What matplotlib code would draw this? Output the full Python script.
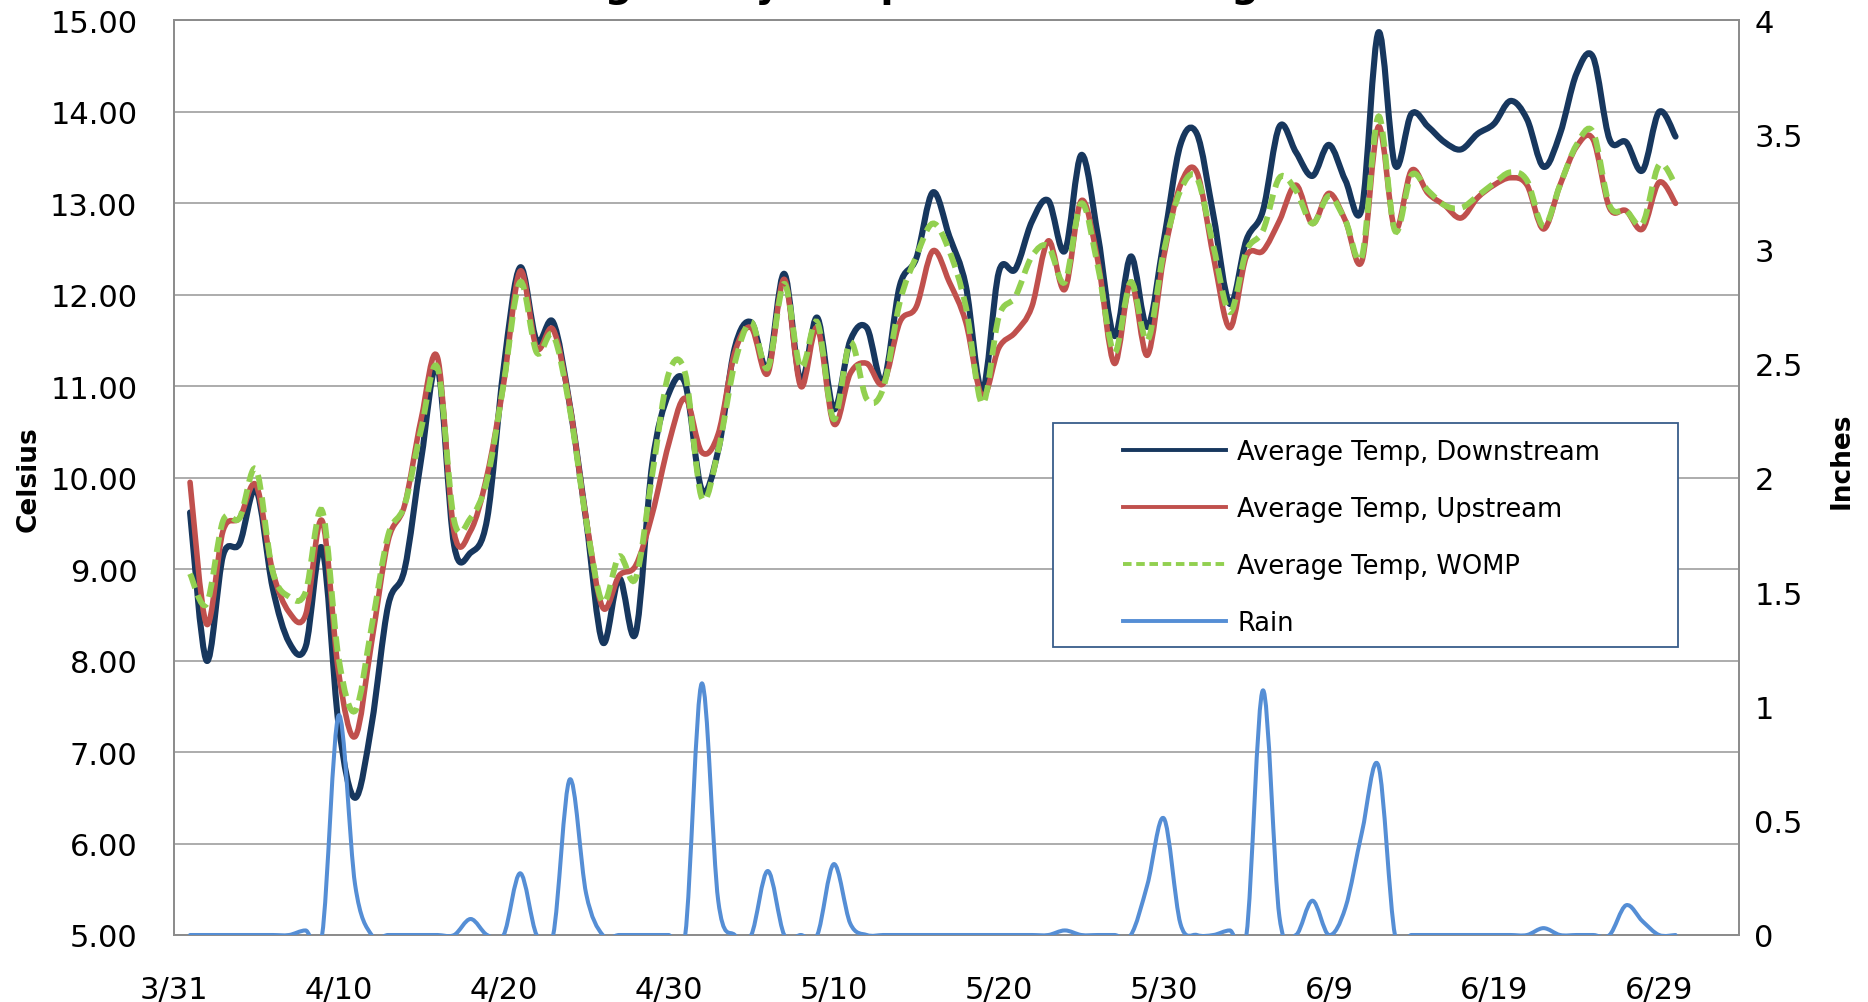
import numpy as np
import pandas as pd
import matplotlib
matplotlib.use("Agg")
import matplotlib.pyplot as plt
import matplotlib.dates as mdates
from matplotlib.path import Path
from matplotlib.patches import PathPatch, Rectangle
from matplotlib.lines import Line2D
from matplotlib.ticker import FuncFormatter

# daily readings 4/1 .. 6/30
dates = pd.date_range("2011-04-01", "2011-06-30", freq="D")

downstream = [
    9.62, 8.00, 9.15, 9.28, 9.87, 8.80, 8.20, 8.15, 9.23, 7.30,
    6.50, 7.30, 8.60, 9.00, 10.20, 11.20, 9.26, 9.18, 9.55, 11.20,
    12.30, 11.50, 11.70, 10.80, 9.53, 8.20, 8.90, 8.30, 10.15, 10.92,
    11.03, 9.87, 10.30, 11.42, 11.70, 11.20, 12.23, 11.05, 11.75, 10.75,
    11.50, 11.64, 11.05, 12.10, 12.40, 13.12, 12.64, 12.10, 10.95, 12.25,
    12.28, 12.80, 13.03, 12.48, 13.53, 12.65, 11.55, 12.42, 11.65, 12.60,
    13.64, 13.76, 12.87, 11.90, 12.60, 12.92, 13.84, 13.56, 13.30, 13.64,
    13.25, 12.95, 14.87, 13.42, 13.98, 13.84, 13.67, 13.59, 13.76, 13.87,
    14.12, 13.92, 13.40, 13.76, 14.42, 14.60, 13.70, 13.67, 13.36, 14.00,
    13.73,
]
upstream = [
    9.95, 8.40, 9.42, 9.56, 9.92, 8.98, 8.53, 8.50, 9.53, 7.87,
    7.17, 8.20, 9.31, 9.70, 10.64, 11.31, 9.40, 9.42, 10.03, 11.03,
    12.26, 11.42, 11.62, 10.80, 9.55, 8.58, 8.93, 9.04, 9.60, 10.37,
    10.87, 10.28, 10.48, 11.37, 11.64, 11.14, 12.17, 11.00, 11.64, 10.59,
    11.14, 11.25, 11.03, 11.70, 11.87, 12.48, 12.14, 11.70, 10.89, 11.42,
    11.59, 11.87, 12.59, 12.06, 13.03, 12.37, 11.25, 12.14, 11.34, 12.42,
    13.20, 13.34, 12.42, 11.64, 12.42, 12.48, 12.81, 13.20, 12.78, 13.11,
    12.81, 12.37, 13.84, 12.72, 13.36, 13.11, 12.98, 12.84, 13.06, 13.20,
    13.28, 13.20, 12.72, 13.20, 13.62, 13.70, 12.95, 12.92, 12.72, 13.23,
    13.00,
]
womp = [
    8.95, 8.62, 9.53, 9.56, 10.09, 8.98, 8.70, 8.75, 9.64, 8.03,
    7.45, 8.37, 9.37, 9.70, 10.53, 11.20, 9.53, 9.56, 9.98, 11.03,
    12.14, 11.37, 11.56, 10.76, 9.53, 8.64, 9.14, 8.90, 10.03, 11.14,
    11.14, 9.78, 10.30, 11.25, 11.70, 11.20, 12.12, 11.20, 11.70, 10.64,
    11.48, 10.86, 10.98, 11.92, 12.42, 12.78, 12.48, 11.87, 10.81, 11.76,
    11.98, 12.42, 12.53, 12.14, 13.00, 12.31, 11.37, 12.14, 11.50, 12.48,
    13.14, 13.28, 12.53, 11.81, 12.48, 12.70, 13.28, 13.14, 12.78, 13.08,
    12.81, 12.42, 13.95, 12.70, 13.31, 13.14, 12.98, 12.95, 13.08, 13.22,
    13.34, 13.25, 12.75, 13.20, 13.64, 13.78, 12.98, 12.92, 12.78, 13.42,
    13.20,
]
rain = [
    0, 0, 0, 0, 0, 0, 0, 0.02, 0, 0.96,
    0.22, 0, 0, 0, 0, 0, 0, 0.07, 0, 0,
    0.27, 0, 0, 0.68, 0.18, 0, 0, 0, 0, 0,
    0, 1.10, 0.15, 0, 0, 0.28, 0, 0, 0, 0.31,
    0.05, 0, 0, 0, 0, 0, 0, 0, 0, 0,
    0, 0, 0, 0.02, 0, 0, 0, 0, 0.22, 0.51,
    0.05, 0, 0, 0.02, 0, 1.07, 0.08, 0, 0.15, 0,
    0.12, 0.45, 0.74, 0, 0, 0, 0, 0, 0, 0,
    0, 0, 0.03, 0, 0, 0, 0, 0.13, 0.06, 0,
    0,
]

tick_dates = pd.date_range("2011-03-31", periods=10, freq="10D")
tick_labels = [f"{d.month}/{d.day}" for d in tick_dates]


def smooth_path(xs, ys):
    # Excel-style smoothed line: cubic bezier through every point
    xs = np.asarray(xs, float)
    ys = np.asarray(ys, float)
    n = len(xs)
    verts = [(xs[0], ys[0])]
    codes = [Path.MOVETO]
    for i in range(n - 1):
        a = max(i - 1, 0)
        b = min(i + 2, n - 1)
        c1 = (xs[i] + (xs[i + 1] - xs[a]) / 6, ys[i] + (ys[i + 1] - ys[a]) / 6)
        c2 = (xs[i + 1] - (xs[b] - xs[i]) / 6, ys[i + 1] - (ys[b] - ys[i]) / 6)
        verts += [c1, c2, (xs[i + 1], ys[i + 1])]
        codes += [Path.CURVE4] * 3
    return Path(verts, codes)


navy = "#17375E"
red = "#C0504D"
green = "#92D050"
blue = "#558ED5"
grid_c = "#A6A6A6"

plt.rcParams["font.family"] = "DejaVu Sans"

fig = plt.figure(figsize=(18.68, 10.03), dpi=100)
ax = fig.add_axes([0.0929, 0.0668, 0.8381, 0.9118])
ax2 = ax.twinx()

x = mdates.date2num(dates)

ax.add_patch(PathPatch(smooth_path(x, downstream), fill=False, edgecolor=navy,
                       lw=4.4, joinstyle="round", capstyle="round", zorder=3))
ax.add_patch(PathPatch(smooth_path(x, upstream), fill=False, edgecolor=red,
                       lw=4.0, joinstyle="round", capstyle="round", zorder=4))
ax.add_patch(PathPatch(smooth_path(x, womp), fill=False, edgecolor=green,
                       lw=4.2, linestyle=(0, (2.6, 1.3)), zorder=5))
ax2.add_patch(PathPatch(smooth_path(x, rain), fill=False, edgecolor=blue,
                        lw=2.9, joinstyle="round", capstyle="round", zorder=3))

x0 = mdates.date2num(tick_dates[0])
ax.set_xlim(x0, x0 + 94.85)
ax.set_ylim(5, 15)
ax2.set_ylim(0, 4)

ax.set_xticks(mdates.date2num(tick_dates))
ax.set_xticklabels(tick_labels)
ax.set_yticks(np.arange(5, 15.01, 1))
ax.yaxis.set_major_formatter(FuncFormatter(lambda v, p: f"{v:.2f}"))
ax2.set_yticks(np.arange(0, 4.01, 0.5))
ax2.yaxis.set_major_formatter(FuncFormatter(lambda v, p: f"{v:g}"))

ax.tick_params(axis="y", length=0, pad=26, labelsize=22, colors="black")
ax.tick_params(axis="x", length=0, pad=29, labelsize=22, colors="black")
ax2.tick_params(axis="y", length=0, pad=11, labelsize=22, colors="black")

ax.yaxis.grid(True, color=grid_c, lw=1.3)
ax.set_axisbelow(True)
for a in (ax, ax2):
    for s in a.spines.values():
        s.set_color("#8C8C8C")
        s.set_linewidth(1.3)

ax.set_ylabel("Celsius", fontsize=19, fontweight="bold")
ax.yaxis.set_label_coords(-0.084, 0.5)
ax2.set_ylabel("Inches", fontsize=19, fontweight="bold", rotation=90)
ax2.yaxis.set_label_coords(1.057, 0.52)

# title sits mostly above the canvas, only descenders show (as in the source)
fig.text(0.472, 1.0025, "Average Daily Temperature Readings", ha="center",
         va="baseline", fontsize=27.5, fontweight="bold")

# legend box
ax2.add_patch(Rectangle((0.5618, 0.315), 0.399, 0.245, transform=ax2.transAxes,
                        facecolor="white", edgecolor="#385D8A", lw=1.3, zorder=6))
handles = [
    Line2D([], [], color=navy, lw=2.8),
    Line2D([], [], color=red, lw=2.8),
    Line2D([], [], color=green, lw=2.8, linestyle=(0, (2.2, 1.2))),
    Line2D([], [], color=blue, lw=2.8),
]
labels = ["Average Temp, Downstream", "Average Temp, Upstream",
          "Average Temp, WOMP", "Rain"]
leg = ax2.legend(handles, labels, loc="upper left", bbox_to_anchor=(0.6065, 0.542),
                 frameon=False, fontsize=18.5, borderpad=0, borderaxespad=0,
                 handlelength=4.0, handletextpad=0.45, labelspacing=1.2)
leg.set_zorder(7)

fig.savefig("out.png", dpi=100)
